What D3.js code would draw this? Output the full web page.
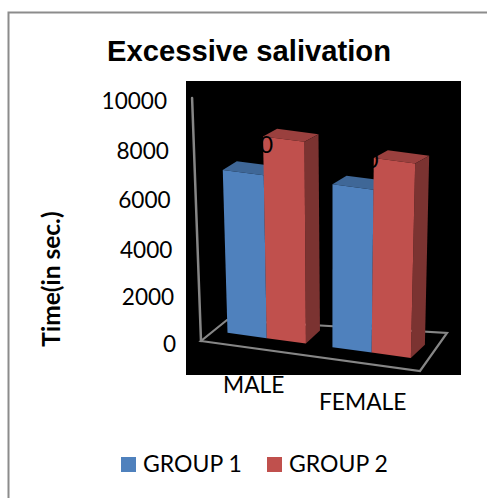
<!DOCTYPE html>
<html><head><meta charset="utf-8">
<script src="https://cdn.jsdelivr.net/npm/d3@7/dist/d3.min.js"></script>
<style>html,body{margin:0;padding:0;background:#fff}svg{display:block}</style></head>
<body><svg id="c" width="487" height="498"></svg>
<script>
const categories = ["MALE", "FEMALE"];
const seriesNames = ["GROUP 1", "GROUP 2"];
const group1 = [6700, 6700];
const group2 = [8300, 8000];
const tickValues = [0, 2000, 4000, 6000, 8000, 10000];
const chartTitle = "Excessive salivation";
const yTitle = "Time(in sec.)";
const colors = {
  "GROUP 1": {front: "#4f81bd", top: "#3f6797", side: "#3f6797"},
  "GROUP 2": {front: "#c0504d", top: "#9a403e", side: "#7b3331"}
};
const labelFont = "Lato, Carlito, 'Open Sans', sans-serif";
const titleFont = "'Liberation Sans', Arial, sans-serif";

const svg = d3.select("#c");
svg.append("path").attr("d", "M8.5,498V12.5H487").attr("fill", "none").attr("stroke", "#8c8c8c").attr("stroke-width", 2);
svg.append("rect").attr("x", 186).attr("y", 81).attr("width", 275).attr("height", 294).attr("fill", "#000");

// floor outline corners
const FL = [201, 341], FR = [420, 371], BR = [447, 333], BL = [227, 320];
const U = [219, 30], D = [27, -21];
const hScale = d3.scaleLinear().domain([0, 10000]).range([0, 243]);
const vanishX = 332, tilt = 0.00028;
const dFront = 0.48, dBack = 1.0;
function floor(u, d) {
  return [FL[0] + U[0] * u + D[0] * d, FL[1] + U[1] * u + D[1] * d];
}
function proj(u, d, v) {
  const h = hScale(v), base = floor(u, dFront);
  const x = base[0] + (base[0] - vanishX) * tilt * h + D[0] * (d - dFront);
  const y = base[1] - h + D[1] * (d - dFront) * (1.2 - 0.6 * h / 243);
  return [x, y];
}
const uBand = d3.scaleBand().domain(categories).range([0.003, 0.958]).paddingInner(0.253).paddingOuter(0.123);
const uSeries = d3.scaleBand().domain(seriesNames).range([0, uBand.bandwidth()]);

const axisColor = "#868686";
const poly = pts => "M" + pts.map(p => p.join(",")).join("L") + "Z";
svg.append("path").attr("d", poly([FL, FR, BR, BL])).attr("fill", "none").attr("stroke", axisColor).attr("stroke-width", 2.2);
const axisTop = [FL[0] + (FL[0] - vanishX) * tilt * hScale(10000), FL[1] - hScale(10000)];
svg.append("line").attr("x1", FL[0]).attr("y1", FL[1]).attr("x2", axisTop[0]).attr("y2", axisTop[1])
  .attr("stroke", axisColor).attr("stroke-width", 2.5).attr("stroke-linecap", "round");

const rows = categories.flatMap((c, i) => [
  {c, s: seriesNames[0], v: group1[i]},
  {c, s: seriesNames[1], v: group2[i]}
]);
const barG = svg.append("g").selectAll("g").data(rows).join("g");
barG.each(function (r) {
  const g = d3.select(this);
  const u0 = uBand(r.c) + uSeries(r.s), u1 = u0 + uSeries.bandwidth();
  const col = colors[r.s];
  g.append("path").attr("d", poly([proj(u0, dFront, r.v), proj(u1, dFront, r.v), proj(u1, dBack, r.v), proj(u0, dBack, r.v)])).attr("fill", col.top);
  g.append("path").attr("d", poly([proj(u1, dFront, 0), proj(u1, dBack, 0), proj(u1, dBack, r.v), proj(u1, dFront, r.v)])).attr("fill", col.side);
  g.append("path").attr("d", poly([proj(u0, dFront, 0), proj(u1, dFront, 0), proj(u1, dFront, r.v), proj(u0, dFront, r.v)])).attr("fill", col.front);
});

const dataLabels = group2.map(() => "0");
svg.append("g").selectAll("text").data(dataLabels).join("text")
  .attr("x", (d, i) => proj(uBand(categories[i]) + uSeries(seriesNames[1]), dFront, group2[i])[0] + (i ? -2 : 3.5))
  .attr("y", (d, i) => proj(uBand(categories[i]) + uSeries(seriesNames[1]), dFront, group2[i])[1] + (i ? 10 : 17))
  .attr("text-anchor", "middle").attr("font-family", labelFont).attr("font-size", 23).attr("fill", "#000").text(d => d);

const tickBaseline = d3.scaleLinear().domain(tickValues).range([352, 304.5, 258, 208, 159, 109]);
svg.append("g").selectAll("text").data(tickValues).join("text")
  .attr("x", d => FL[0] + (FL[0] - vanishX) * tilt * hScale(d) - 25)
  .attr("y", d => tickBaseline(d))
  .attr("text-anchor", "end").attr("font-family", labelFont).attr("font-size", 22.6).attr("fill", "#000").text(d => d);

svg.append("text").attr("x", 249).attr("y", 61).attr("text-anchor", "middle")
  .attr("font-family", titleFont).attr("font-weight", 700).attr("font-size", 29.2).attr("fill", "#000").text(chartTitle);
svg.append("text").attr("transform", "translate(60,279) rotate(-90)").attr("text-anchor", "middle")
  .attr("font-family", labelFont).attr("font-weight", 700).attr("font-size", 24.5).attr("fill", "#000").text(yTitle);

svg.append("g").selectAll("text").data(categories).join("text")
  .attr("x", (d, i) => floor(uBand(d) + uBand.bandwidth() / 2, 0)[0] + (i ? 4 : 0))
  .attr("y", (d, i) => floor(uBand(d) + uBand.bandwidth() / 2, 0)[1] + (i ? 47.5 : 45))
  .attr("text-anchor", "middle").attr("font-family", labelFont).attr("font-size", 22.8).attr("fill", "#000").text(d => d);

const legendX = d3.scaleOrdinal().domain(seriesNames).range([121, 267]);
const leg = svg.append("g").selectAll("g").data(seriesNames).join("g").attr("transform", d => `translate(${legendX(d)},457)`);
leg.append("rect").attr("width", 15).attr("height", 15).attr("fill", d => colors[d].front);
leg.append("text").attr("x", 22).attr("y", 15).attr("font-family", labelFont).attr("font-size", 23).attr("fill", "#000").text(d => d);
</script></body></html>
